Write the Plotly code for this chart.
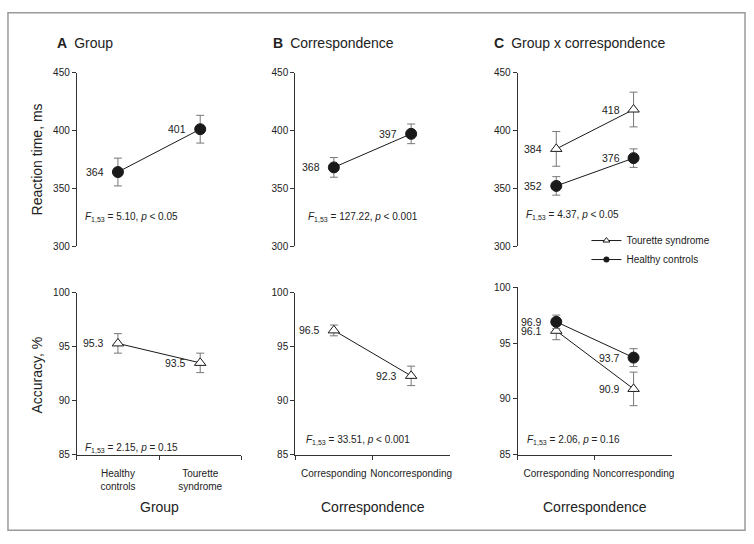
import plotly.graph_objects as go

# ---------------- data ----------------
group_cats = ["Healthy controls", "Tourette syndrome"]
group_ticks = ["Healthy<br>controls", "Tourette<br>syndrome"]
corr_cats = ["Corresponding", "Noncorresponding"]

rt_group = [364, 401]
rt_group_err = [12, 12]
rt_corr = [368, 397]
rt_corr_err = [8.5, 8.5]
rt_ts = [384, 418]
rt_ts_err = [15, 15]
rt_hc = [352, 376]
rt_hc_err = [8, 8]

acc_group = [95.3, 93.5]
acc_group_err = [0.9, 0.9]
acc_corr = [96.5, 92.3]
acc_corr_err = [0.5, 0.9]
acc_ts = [96.1, 90.9]
acc_ts_err = [0.8, 1.5]
acc_hc = [96.9, 93.7]
acc_hc_err = [0.6, 0.8]

stats = [
    "<i>F</i><sub>1,53</sub> = 5.10, <i>p</i> &lt; 0.05",
    "<i>F</i><sub>1,53</sub> = 127.22, <i>p</i> &lt; 0.001",
    "<i>F</i><sub>1,53</sub> = 4.37, <i>p</i> &lt; 0.05",
    "<i>F</i><sub>1,53</sub> = 2.15, <i>p</i> = 0.15",
    "<i>F</i><sub>1,53</sub> = 33.51, <i>p</i> &lt; 0.001",
    "<i>F</i><sub>1,53</sub> = 2.06, <i>p</i> = 0.16",
]

# ---------------- layout helpers ----------------
W, H = 754, 544
FONT = "Liberation Sans, Arial, Helvetica, sans-serif"
TXT = "#222222"
AX = "#333333"
ERR = "#777777"


def px_x(p):
    return p / W


def px_y(p):
    return 1 - p / H


xdom = [(77, 242), (296, 451), (519, 674)]
ydom_top = (68, 245.5)
ydom_bot = [(293, 459), (293, 459), (287.5, 459)]

fig = go.Figure()

circle = dict(symbol="circle", size=11, color="#1a1a1a", line=dict(color="#1a1a1a", width=1))
tri = dict(symbol="triangle-up", size=10, color="white", line=dict(color="#1a1a1a", width=1))


def add_series(i, cats, vals, errs, marker):
    ax = "" if i == 1 else str(i)
    fig.add_trace(go.Scatter(
        x=cats, y=vals, mode="lines+markers",
        xaxis="x" + ax, yaxis="y" + ax,
        line=dict(color="#1a1a1a", width=1),
        marker=marker,
        error_y=dict(type="data", array=errs, color=ERR, thickness=1, width=4),
        showlegend=False, hoverinfo="skip",
    ))
    for c, v in zip(cats, vals):
        fig.add_annotation(x=c, y=v, xref="x" + ax, yref="y" + ax,
                           text=str(v), showarrow=False, xanchor="right",
                           yanchor="middle", xshift=-12,
                           font=dict(size=10.5, color=TXT, family=FONT))


add_series(1, group_cats, rt_group, rt_group_err, circle)
add_series(2, corr_cats, rt_corr, rt_corr_err, circle)
add_series(3, corr_cats, rt_ts, rt_ts_err, tri)
add_series(3, corr_cats, rt_hc, rt_hc_err, circle)
add_series(4, group_cats, acc_group, acc_group_err, tri)
add_series(5, corr_cats, acc_corr, acc_corr_err, tri)
add_series(6, corr_cats, acc_ts, acc_ts_err, tri)
add_series(6, corr_cats, acc_hc, acc_hc_err, circle)

# legend-only entries
fig.add_trace(go.Scatter(x=[None], y=[None], xaxis="x3", yaxis="y3", mode="lines+markers",
                         name="Tourette syndrome", line=dict(color="#1a1a1a", width=1),
                         marker=dict(symbol="triangle-up", size=6, color="white",
                                     line=dict(color="#1a1a1a", width=1))))
fig.add_trace(go.Scatter(x=[None], y=[None], xaxis="x3", yaxis="y3", mode="lines+markers",
                         name="Healthy controls", line=dict(color="#1a1a1a", width=1),
                         marker=dict(symbol="circle", size=6, color="#1a1a1a")))

layout = {}
for i in range(6):
    col = i % 3
    top = i < 3
    ax = "" if i == 0 else str(i + 1)
    x0, x1 = xdom[col]
    yd = ydom_top if top else ydom_bot[col]
    cats = group_cats if col == 0 else corr_cats
    ticktext = group_ticks if col == 0 else corr_cats
    layout["xaxis" + ax] = dict(
        domain=[px_x(x0), px_x(x1)], anchor="y" + ax, type="category",
        categoryorder="array", categoryarray=cats,
        range=[-0.5, 1.5], showgrid=False, zeroline=False,
        showline=not top, linecolor=AX, linewidth=1,
        ticks="" if top else "outside", tickson="boundaries", ticklen=4,
        tickcolor=AX, showticklabels=not top, tickangle=0,
        tickvals=cats, ticktext=ticktext, ticklabelstandoff=9,
        tickfont=dict(size=10, color=TXT, family=FONT),
    )
    if top:
        yr, tv = [300, 450], [300, 350, 400, 450]
    else:
        yr, tv = [85, 100], [85, 90, 95, 100]
    layout["yaxis" + ax] = dict(
        domain=[px_y(yd[1]), px_y(yd[0])], anchor="x" + ax,
        range=yr, tickvals=tv, showgrid=False, zeroline=False,
        showline=True, linecolor=AX, linewidth=1, ticks="outside",
        ticklen=4, tickcolor=AX,
        tickfont=dict(size=10, color=TXT, family=FONT),
    )

fig.update_layout(
    width=W, height=H, margin=dict(l=0, r=0, t=0, b=0),
    paper_bgcolor="white", plot_bgcolor="white",
    font=dict(family=FONT, color=TXT),
    legend=dict(x=px_x(588), y=px_y(225), xanchor="left", yanchor="top",
                font=dict(size=10, color=TXT, family=FONT),
                bgcolor="rgba(0,0,0,0)", itemwidth=30, traceorder="normal"),
    **layout,
)

# outer frame
fig.add_shape(type="rect", xref="paper", yref="paper",
              x0=px_x(8), x1=px_x(747), y0=px_y(536), y1=px_y(7),
              line=dict(color="#9a9a9a", width=1.5))

# panel titles
titles = ["<b>A</b>\u2002Group", "<b>B</b>\u2002Correspondence", "<b>C</b>\u2002Group x correspondence"]
title_x = [55, 272, 493]
for t, xp in zip(titles, title_x):
    fig.add_annotation(x=px_x(xp), y=px_y(38), xref="paper", yref="paper", text=t,
                       showarrow=False, xanchor="left", yanchor="middle",
                       font=dict(size=14, color=TXT, family=FONT))

# y axis titles
fig.add_annotation(x=px_x(37), y=px_y(157), xref="paper", yref="paper",
                   text="Reaction time, ms", textangle=-90, showarrow=False,
                   xanchor="center", yanchor="middle",
                   font=dict(size=14, color=TXT, family=FONT))
fig.add_annotation(x=px_x(37), y=px_y(377), xref="paper", yref="paper",
                   text="Accuracy, %", textangle=-90, showarrow=False,
                   xanchor="center", yanchor="middle",
                   font=dict(size=14, color=TXT, family=FONT))

# x axis titles
for t, (x0, x1) in zip(["Group", "Correspondence", "Correspondence"], xdom):
    fig.add_annotation(x=px_x((x0 + x1) / 2), y=px_y(512), xref="paper", yref="paper",
                       text=t, showarrow=False, xanchor="center", yanchor="middle",
                       font=dict(size=14, color=TXT, family=FONT))

# statistics
stat_pos = [(83, 216), (307, 216), (525, 214), (83, 452), (305, 444), (526, 444)]
for s, (xp, yp) in zip(stats, stat_pos):
    fig.add_annotation(x=px_x(xp), y=px_y(yp), xref="paper", yref="paper", text=s,
                       showarrow=False, xanchor="left", yanchor="middle",
                       font=dict(size=10, color=TXT, family=FONT))

fig.write_html("out.html", config={"displayModeBar": False},
               post_script="document.body.style.margin='0px';document.body.style.padding='0px';")
